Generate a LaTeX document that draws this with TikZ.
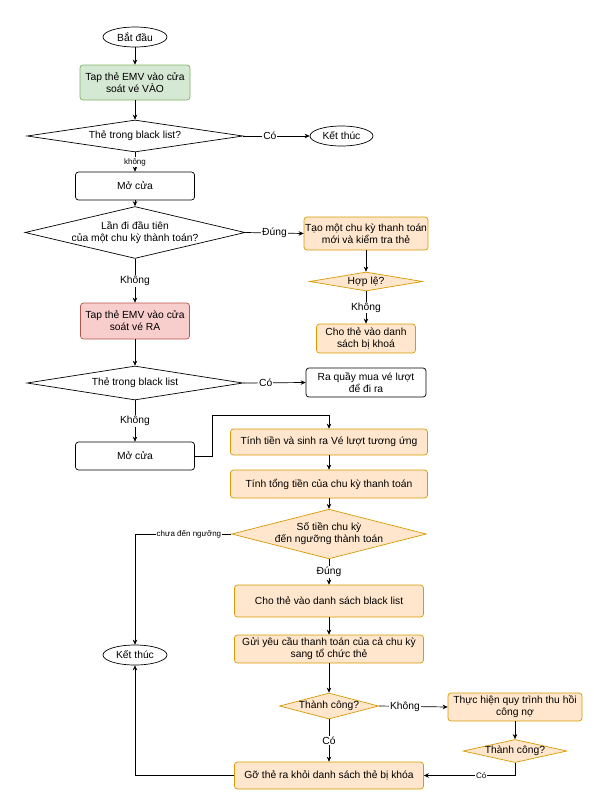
\documentclass[tikz,border=0pt]{standalone}
\usepackage{fontspec}
\setmainfont{Liberation Sans}
\usetikzlibrary{shapes.geometric,arrows.meta}
\definecolor{gfill}{HTML}{D5E8D4}\definecolor{gline}{HTML}{82B366}
\definecolor{ofill}{HTML}{FFE6CC}\definecolor{oline}{HTML}{D79B00}
\definecolor{rfill}{HTML}{F8CECC}\definecolor{rline}{HTML}{B85450}
\begin{document}
\begin{tikzpicture}[x=1pt,y=-1pt,font=\fontsize{10.3}{12}\selectfont,
  sz/.style 2 args={minimum width=#1pt,minimum height=#2pt},
  box/.style={draw,rounded corners=3pt,align=center,inner sep=1pt,line width=0.7pt},
  term/.style={draw,ellipse,inner sep=0pt,line width=0.7pt},
  dia/.style={draw,diamond,inner sep=0pt,align=center,line width=0.7pt},
  gbox/.style={box,fill=gfill,draw=gline},
  obox/.style={box,fill=ofill,draw=oline},
  rbox/.style={box,fill=rfill,draw=rline},
  odia/.style={dia,fill=ofill,draw=oline},
  arr/.style={draw,line width=0.7pt,-{Stealth[length=5pt,width=4.5pt]}},
  lab/.style={fill=white,inner sep=1pt},
  slab/.style={fill=white,inner sep=1pt,font=\fontsize{8}{9.6}\selectfont}]
\useasboundingbox (0,0) rectangle (594,807);
% nodes
\node[term,sz={64}{20}] (start) at (135,37) {Bắt đầu};
\node[gbox,sz={110}{35}] (green) at (135,82.5) {Tap thẻ EMV vào cửa\\soát vé VÀO};
\node[dia,sz={216}{32},aspect=6.75] (d1) at (135,136) {Thẻ trong black list?};
\node[term,sz={63}{20}] (end1) at (341.5,136) {Kết thúc};
\node[box,sz={119}{28}] (mo1) at (135,186) {Mở cửa};
\node[dia,sz={216}{51},aspect=4.24] (d2) at (135,232.5) {Lần đi đầu tiên\\của một chu kỳ thành toán?};
\node[obox,sz={121}{33}] (box1) at (366,233.5) {Tạo một chu kỳ thanh toán\\mới và kiểm tra thẻ};
\node[odia,sz={113}{19},aspect=5.95] (hople) at (366,281.5) {Hợp lệ?};
\node[obox,sz={99}{29}] (chothe) at (366,338.5) {Cho thẻ vào danh\\sách bị khoá};
\node[rbox,sz={109}{36}] (red) at (135,321) {Tap thẻ EMV vào cửa\\soát vé RA};
\node[dia,sz={216}{34},aspect=6.35] (d3) at (135,383) {Thẻ trong black list};
\node[box,sz={120}{29}] (raquay) at (366,382.5) {Ra quầy mua vé lượt\\để đi ra};
\node[box,sz={119}{28}] (mo2) at (135,456) {Mở cửa};
\node[obox,sz={197}{26}] (tinhtien) at (329,442) {Tính tiền và sinh ra Vé lượt tương ứng};
\node[obox,sz={197}{28}] (tong) at (329,484) {Tính tổng tiền của chu kỳ thanh toán};
\node[odia,sz={188}{48},aspect=3.92] (d4) at (329,534) {Số tiền chu kỳ\\đến ngưỡng thành toán};
\node[obox,sz={189}{32}] (bl) at (329,601) {Cho thẻ vào danh sách black list};
\node[obox,sz={189}{28}] (gui) at (329,649) {Gửi yêu cầu thanh toán của cả chu kỳ\\sang tổ chức thẻ};
\node[term,sz={64}{20}] (end2) at (135,655) {Kết thúc};
\node[odia,sz={99}{26},aspect=3.81] (tc1) at (329,706) {Thành công?};
\node[obox,sz={134}{28}] (thuhoi) at (515,707) {Thực hiện quy trình thu hồi\\công nợ};
\node[odia,sz={99}{22},aspect=4.5] (tc2) at (515,751) {Thành công?};
\node[obox,sz={189}{27}] (go) at (329,775.5) {Gỡ thẻ ra khỏi danh sách thẻ bị khóa};
% connectors
\draw[arr] (start) -- (green);
\draw[arr] (green) -- (d1);
\draw[arr] (d1.east) -- node[lab,pos=0.4]{Có} (end1.west);
\draw[arr] (d1.south) -- node[slab]{không} (mo1.north);
\draw[arr] (mo1) -- (d2);
\draw[arr] (d2.east) -- node[lab,pos=0.5]{Đúng} (box1.west);
\draw[arr] (d2.south) -- node[lab]{Không} (red.north);
\draw[arr] (box1) -- (hople);
\draw[arr] (hople.south) -- node[lab]{Không} (chothe.north);
\draw[arr] (red) -- (d3);
\draw[arr] (d3.east) -- node[lab,pos=0.36]{Có} (raquay.west);
\draw[arr] (d3.south) -- node[lab]{Không} (mo2.north);
\draw[arr] (mo2.east) -- ++(17,0) -- ++(0,-41) -| (tinhtien.north);
\draw[arr] (tinhtien) -- (tong);
\draw[arr] (tong) -- (d4);
\draw[arr] (d4.west) -| node[slab,pos=0.22]{chưa đến ngưỡng} (end2.north);
\draw[arr] (d4.south) -- node[lab]{Đúng} (bl.north);
\draw[arr] (bl) -- (gui);
\draw[arr] (gui) -- (tc1);
\draw[arr] (tc1.east) -- node[lab,pos=0.38]{Không} (thuhoi.west);
\draw[arr] (tc1.south) -- node[lab]{Có} (go.north);
\draw[arr] (thuhoi) -- (tc2);
\draw[arr] (tc2.south) |- node[slab,pos=0.685]{Có} (go.east);
\draw[arr] (go.west) -| (end2.south);
\end{tikzpicture}
\end{document}
